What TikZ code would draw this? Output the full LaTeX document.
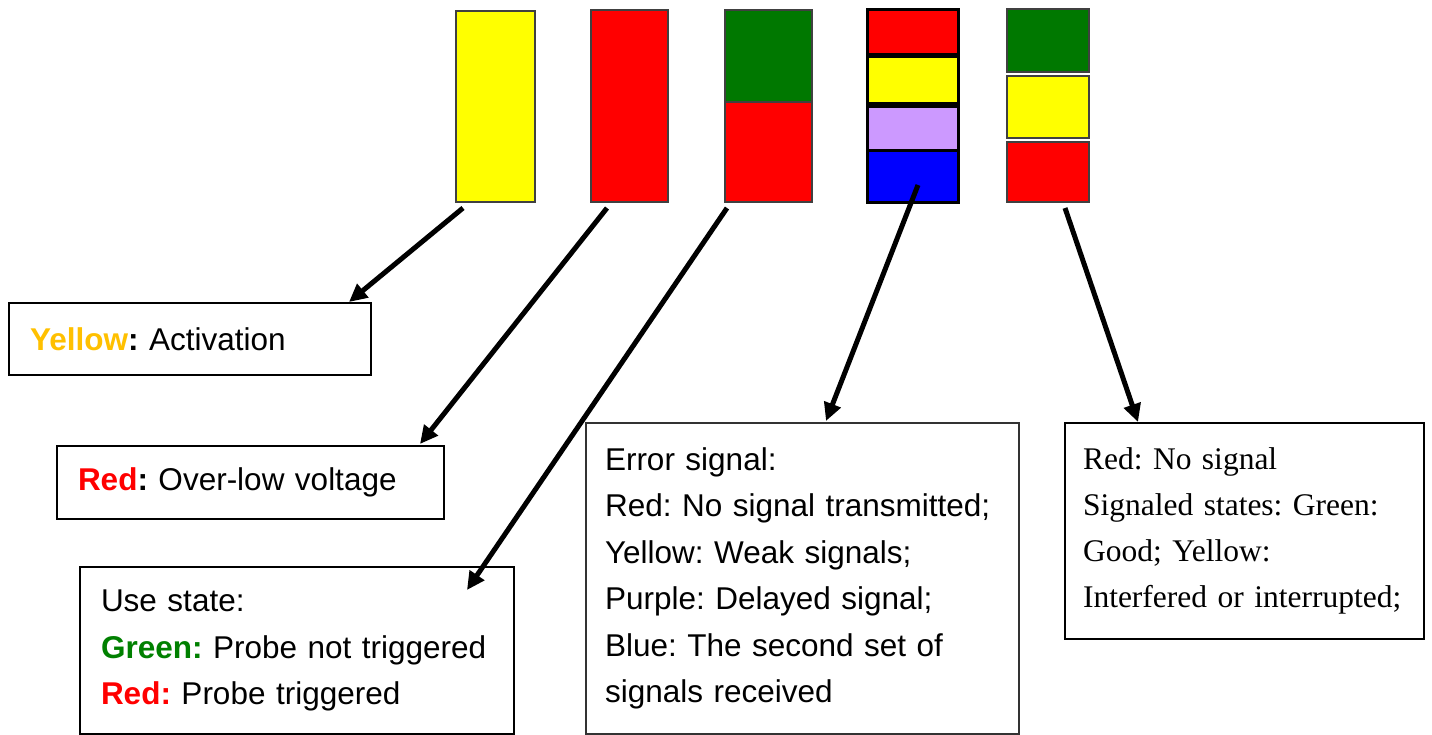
\documentclass[tikz,border=0pt]{standalone}
\usepackage{fontspec}
\setmainfont{Liberation Serif}
\setsansfont{Liberation Sans}
\usetikzlibrary{positioning, arrows.meta}
\usepackage{xcolor}
\frenchspacing

\definecolor{barYellow}{HTML}{FFFF00}
\definecolor{barRed}{HTML}{FF0000}
\definecolor{barGreen}{HTML}{007800}
\definecolor{barPurple}{HTML}{CC99FF}
\definecolor{barBlue}{HTML}{0000FF}
\definecolor{txtGold}{HTML}{FFC000}
\definecolor{txtGreen}{HTML}{008000}

\begin{document}
\begin{tikzpicture}[
        x=1pt, y=-1pt,
        bar/.style={rectangle, draw=black!75, line width=2pt, anchor=north west, outer sep=0pt, inner sep=0pt},
        seg/.style={rectangle, draw=black, line width=3pt, outer sep=0pt, inner sep=0pt, minimum width=91pt},
        box/.style={rectangle, draw=black, line width=2pt, anchor=north west, align=left, inner ysep=0pt, font=\sffamily\fontsize{31.5}{46.5}\selectfont},
        arrow/.style={-{Triangle[length=18pt, width=17pt]}, line width=5pt, black}
    ]
        \useasboundingbox (0,0) rectangle (1432,734);

        % Bars
        \node[bar, fill=barYellow, minimum width=79pt, minimum height=191pt] (b_yel) at (456,11) {};
        \node[bar, fill=barRed, minimum width=77pt, minimum height=192pt] (b_red) at (591,10) {};
        \node[bar, fill=barGreen, minimum width=87pt, minimum height=92pt] (b_use_g) at (725,10) {};
        \node[bar, fill=barRed, minimum width=87pt, minimum height=100pt, below=0pt of b_use_g] (b_use_r) {};

        \node[seg, fill=barRed, minimum height=45pt, anchor=north west] (b_err_r) at (867,9) {};
        \node[seg, fill=barYellow, minimum height=47pt, below=2pt of b_err_r] (b_err_y) {};
        \node[seg, fill=barPurple, minimum height=44pt, below=3pt of b_err_y] (b_err_p) {};
        \node[seg, fill=barBlue, minimum height=52pt, below=0pt of b_err_p] (b_err_b) {};

        \node[bar, fill=barGreen, minimum width=82pt, minimum height=63pt] (b_sig_g) at (1007,9) {};
        \node[bar, fill=barYellow, minimum width=82pt, minimum height=62pt, below=4pt of b_sig_g] (b_sig_y) {};
        \node[bar, fill=barRed, minimum width=82pt, minimum height=60pt, below=4pt of b_sig_y] (b_sig_r) {};

        % Labels
        \node[box, minimum width=362pt, minimum height=72pt, inner xsep=21pt, text width=320pt] (l_act) at (8,302)
            {{\bfseries\color{txtGold}Yellow}\textbf{:} Activation};
        \node[box, minimum width=387pt, minimum height=73pt, inner xsep=21pt, text width=345pt] (l_volt) at (56,445)
            {{\bfseries\color{barRed}Red}\textbf{:} Over-low voltage};
        \node[box, minimum width=434pt, minimum height=167pt, inner xsep=21pt, text width=392pt] (l_use) at (79,566)
            {Use state:\\
             {\bfseries\color{txtGreen}Green:} Probe not triggered\\
             {\bfseries\color{barRed}Red:} Probe triggered};
        \node[box, draw=black!80, minimum width=433pt, minimum height=311pt, inner xsep=19pt, text width=395pt] (l_err) at (585,422)
            {Error signal:\\
             Red: No signal transmitted;\\
             Yellow: Weak signals;\\
             Purple: Delayed signal;\\
             Blue: The second set of\\
             signals received};
        \node[box, minimum width=359pt, minimum height=216pt, inner xsep=18pt, text width=323pt, font=\rmfamily\fontsize{31.5}{46}\selectfont] (l_sig) at (1064,422)
            {Red: No signal\\
             Signaled states: Green:\\
             Good; Yellow:\\
             Interfered or interrupted;};

        % Connections
        \draw[arrow] ([shift={(-32.5,6)}]b_yel.south) -- ([shift={(-23,0)}]l_act.north east);
        \draw[arrow] ([shift={(-22.5,6)}]b_red.south) -- ([shift={(-25,-1)}]l_volt.north east);
        \draw[arrow] ([shift={(-41.5,6)}]b_use_r.south) -- ([shift={(-48,24)}]l_use.north east);
        \draw[arrow] ([shift={(5.5,-17)}]b_err_b.south) -- ([shift={(23.5,-1)}]l_err.north);
        \draw[arrow] ([shift={(17,6)}]b_sig_r.south) -- ([shift={(74,0)}]l_sig.north west);
    \end{tikzpicture}
\end{document}
